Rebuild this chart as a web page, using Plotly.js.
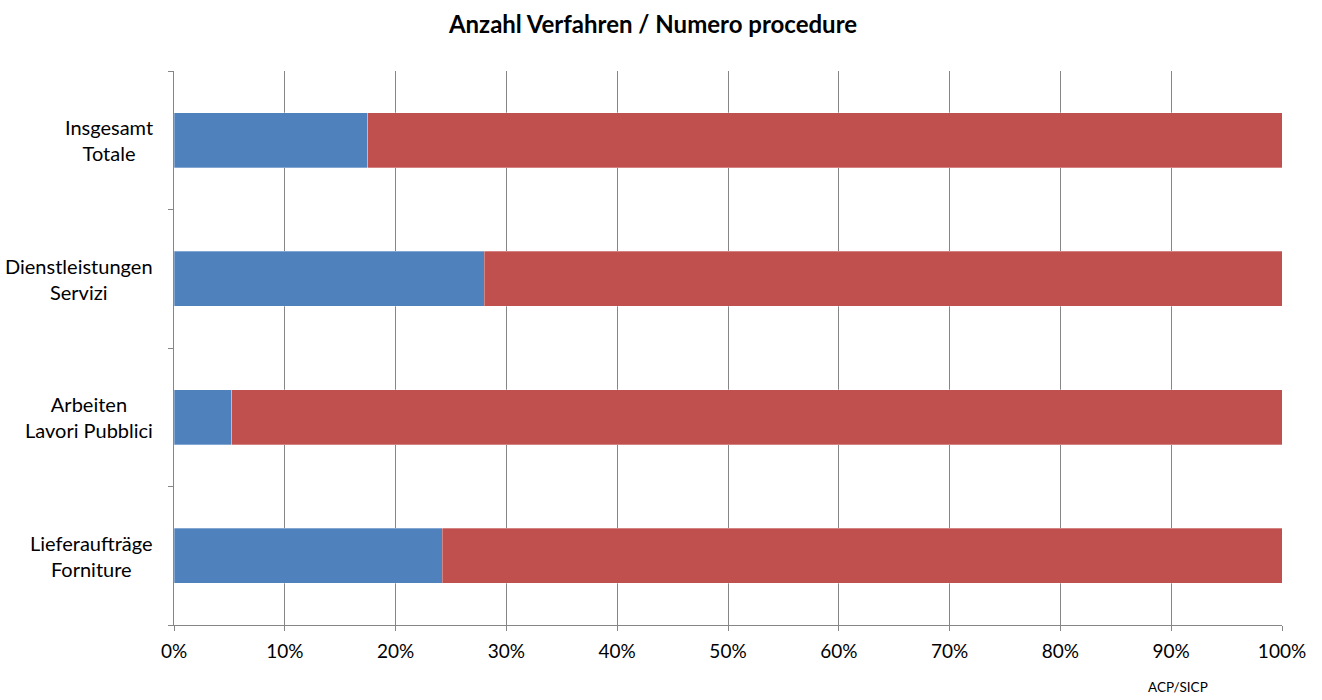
<!DOCTYPE html>
<html>
<head>
<meta charset="utf-8">
<script src="https://cdn.plot.ly/plotly-3.0.1.min.js"></script>
<style>html,body{margin:0;padding:0;background:#fff;}#chart{width:1322px;height:700px;}</style>
</head>
<body>
<div id="chart"></div>
<script>
// Categories (bottom to top)
const categories = ["Lieferaufträge", "Arbeiten", "Dienstleistungen", "Insgesamt"];
const categoryLabels = ["Lieferaufträge<br>Forniture", "Arbeiten<br>Lavori Pubblici", "Dienstleistungen<br>Servizi", "Insgesamt<br>Totale"];
// Shares in percent
const blueValues = [24.2, 5.2, 28.0, 17.5];
const redValues = [75.8, 94.8, 72.0, 82.5];
const xTickVals = [0, 10, 20, 30, 40, 50, 60, 70, 80, 90, 100];
const xTickText = ["0%", "10%", "20%", "30%", "40%", "50%", "60%", "70%", "80%", "90%", "100%"];

const FONT = "Lato, 'Open Sans', sans-serif";

const traces = [
  {type: "bar", orientation: "h", y: categories, x: blueValues,
   marker: {color: "#4F81BD", line: {color: "rgba(255,255,255,0.6)", width: 0.5}}, hoverinfo: "skip"},
  {type: "bar", orientation: "h", y: categories, x: redValues,
   marker: {color: "#C0504D", line: {color: "rgba(255,255,255,0.6)", width: 0.5}}, hoverinfo: "skip"}
];

const annotations = categories.map((c, i) => ({
  xref: "paper", yref: "y", x: 0, y: c, xanchor: "right", yanchor: "middle",
  xshift: -19, align: "center", showarrow: false, text: categoryLabels[i],
  font: {family: FONT, size: 20, color: "#000"}
}));
annotations.push({
  xref: "paper", yref: "paper", x: (1178 - 174) / 1108, y: 0, yshift: -62,
  xanchor: "center", yanchor: "middle", showarrow: false, text: "ACP/SICP",
  font: {family: FONT, size: 13.5, color: "#000"}
});

const layout = {
  width: 1322, height: 700,
  margin: {l: 174, r: 40, t: 71, b: 75},
  paper_bgcolor: "#fff", plot_bgcolor: "#fff",
  barmode: "stack", bargap: 0.6, showlegend: false,
  title: {text: "<b>Anzahl Verfahren / Numero procedure</b>", x: 653 / 1322, xanchor: "center",
          y: 1 - 25 / 700, yanchor: "middle", font: {family: FONT, size: 24, color: "#000"}},
  xaxis: {range: [0, 100], tickvals: xTickVals, ticktext: xTickText, showgrid: true,
          gridcolor: "#868686", gridwidth: 1, showline: true, linecolor: "#868686", linewidth: 1,
          ticks: "outside", ticklen: 5, tickcolor: "#868686", zeroline: false, fixedrange: true,
          ticklabelstandoff: 4,
          tickfont: {family: FONT, size: 19, color: "#000"}},
  yaxis: {type: "category", categoryarray: categories, categoryorder: "array",
          showticklabels: false, showgrid: false, showline: true, linecolor: "#868686", linewidth: 1,
          ticks: "outside", ticklen: 5, tickcolor: "#868686", tickson: "boundaries", fixedrange: true},
  annotations: annotations
};

Plotly.newPlot("chart", traces, layout, {displayModeBar: false, staticPlot: true});
</script>
</body>
</html>
